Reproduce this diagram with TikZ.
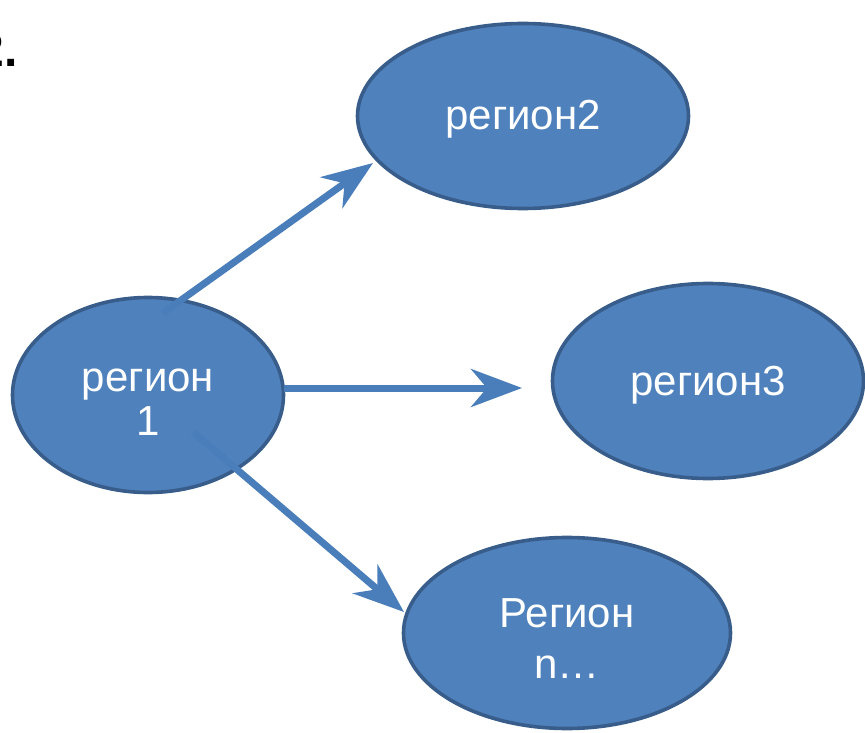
\documentclass[tikz,border=0pt]{standalone}
\usepackage{fontspec}
\setmainfont{Liberation Sans}
\usetikzlibrary{arrows.meta,shapes.geometric}
\definecolor{fillblue}{HTML}{4F81BD}
\definecolor{edgeblue}{HTML}{385D8A}
\definecolor{arrblue}{HTML}{4A7EBB}
\begin{document}
\begin{tikzpicture}[x=1pt,y=-1pt,
  region/.style={ellipse, draw=edgeblue, fill=fillblue, line width=3.6pt, inner sep=0pt},
  rtext/.style={text=white, font=\fontsize{42}{44}\selectfont, align=center, inner sep=0pt},
  arr/.style={draw=arrblue, line width=7pt, -{Stealth[length=51pt,width=38pt,inset=16pt]}}]
\useasboundingbox (0,0) rectangle (865,733);
\node[anchor=base east, inner sep=0pt, font=\bfseries\fontsize{48}{50}\selectfont] (num) at (18,67) {2.};
\node[region, minimum width=331pt, minimum height=185pt] (r2) at (523,116) {};
\node[region, minimum width=271pt, minimum height=195pt] (r1) at (148,395) {};
\node[region, minimum width=311pt, minimum height=195pt] (r3) at (708,381) {};
\node[region, minimum width=327pt, minimum height=191pt] (rn) at (567,633) {};
\node[rtext] (r2t) at ([yshift=-3pt]r2.center) {регион2};
\node[rtext] (r1t) at ([yshift=-7pt]r1.center) {регион\\1};
\node[rtext] (r3t) at ([yshift=-4pt]r3.center) {регион3};
\node[rtext, font=\fontsize{42}{51}\selectfont] (rnt) at ([yshift=-6pt]rn.center) {Регион\\n…};
\coordinate (s1) at (163,313);
\coordinate (t1) at (373,163);
\coordinate (s2) at (284,388);
\coordinate (t2) at (522,388);
\coordinate (s3) at (193,432);
\coordinate (t3) at (404,612);
\draw[arr] (s1) -- (t1);
\draw[arr] (s2) -- (t2);
\draw[arr] (s3) -- (t3);
\end{tikzpicture}
\end{document}
